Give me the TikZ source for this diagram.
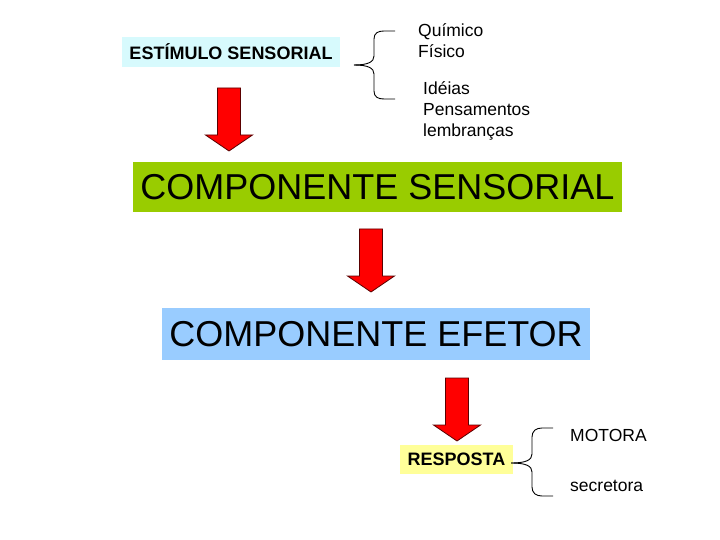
\documentclass[tikz,border=0pt]{standalone}
\usepackage{fontspec}
\setmainfont{Liberation Sans}
\definecolor{cyanbox}{RGB}{215,250,253}
\definecolor{greenbox}{RGB}{153,204,0}
\definecolor{bluebox}{RGB}{153,204,255}
\definecolor{yellowbox}{RGB}{255,255,153}
\definecolor{arrowred}{RGB}{255,0,0}
\definecolor{arrowedge}{RGB}{90,0,0}
\begin{document}
\begin{tikzpicture}[x=1pt,y=-1pt,
  smallbox/.style={inner sep=0pt, font=\fontsize{18}{20}\selectfont\bfseries},
  bigbox/.style={inner sep=0pt, font=\fontsize{36}{40}\selectfont},
  itemtext/.style={inner sep=0pt, anchor=base west, font=\fontsize{17.5}{20}\selectfont},
  bracepath/.style={draw=black, line width=0.9pt},
  downarrow/.pic={\draw[fill=arrowred, draw=arrowedge, line width=0.8pt, line join=miter]
     (-11.5,-63) -- (11.5,-63) -- (11.5,-16) -- (23.5,-16) -- (0,0) -- (-23.5,-16) -- (-11.5,-16) -- cycle;}]
\useasboundingbox (0,0) rectangle (720,540);

% boxes
\node[smallbox, fill=cyanbox, minimum width=218pt, minimum height=30pt] (estimulo) at (231,52) {ESTÍMULO SENSORIAL};
\node[bigbox, fill=greenbox, minimum width=489pt, minimum height=50pt] (sensorial) at (377.5,187) {COMPONENTE SENSORIAL};
\node[bigbox, fill=bluebox, minimum width=428pt, minimum height=52pt] (efetor) at (376,334) {COMPONENTE EFETOR};
\node[smallbox, fill=yellowbox, minimum width=113pt, minimum height=29pt] (resposta) at (456.5,459) {RESPOSTA};

% block arrows
\pic at (229,151) {downarrow};
\pic at (371,292) {downarrow};
\pic at (457,441) {downarrow};

% texts
\node[itemtext] (quimico) at (418,37) {Químico};
\node[itemtext] (fisico) at (418,58) {Físico};
\node[itemtext] (ideias) at (423,95) {Idéias};
\node[itemtext] (pensamentos) at (423,116) {Pensamentos};
\node[itemtext] (lembrancas) at (423,137) {lembranças};
\node[itemtext] (motora) at (570,441) {MOTORA};
\node[itemtext] (secretora) at (570,491) {secretora};

% brace 1
\coordinate (b1tip) at (354,65);
\coordinate (b1top) at (395,31);
\coordinate (b1bot) at (395,99);
\path[bracepath] (b1tip) .. controls (368,65) and (374,62) .. (374,56) -- (374,39)
   .. controls (374,33) and (378,31) .. (384,31) -- (b1top);
\path[bracepath] (b1tip) .. controls (368,65) and (374,68) .. (374,74) -- (374,91)
   .. controls (374,97) and (378,99) .. (384,99) -- (b1bot);

% brace 2
\coordinate (b2tip) at (511,463);
\coordinate (b2top) at (553,428);
\coordinate (b2bot) at (553,496);
\path[bracepath] (b2tip) .. controls (526,463) and (532,460) .. (532,454) -- (532,437)
   .. controls (532,431) and (536,428) .. (542,428) -- (b2top);
\path[bracepath] (b2tip) .. controls (526,463) and (532,466) .. (532,472) -- (532,487)
   .. controls (532,493) and (536,496) .. (542,496) -- (b2bot);
\end{tikzpicture}
\end{document}
